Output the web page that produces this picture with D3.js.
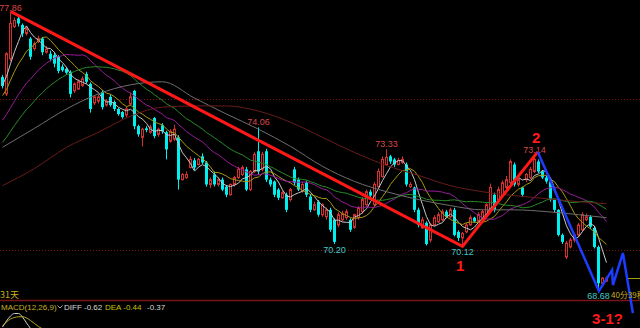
<!DOCTYPE html>
<html>
<head>
<meta charset="utf-8">
<script src="https://cdn.jsdelivr.net/npm/d3@7"></script>
<style>
html, body { margin: 0; padding: 0; background: #000; overflow: hidden; }
svg { display: block; }
</style>
</head>
<body>
<svg id="chart" width="640" height="328"></svg>
<script>
// daily candles
const opens = [75.73,75.17,76.33,77.40,77.67,77.45,77.17,77.00,76.67,76.90,77.00,76.55,76.50,76.45,76.40,76.07,76.00,75.90,75.27,75.33,
  75.45,75.83,75.50,74.87,74.93,75.23,74.80,75.07,74.90,74.67,74.57,74.47,74.83,75.27,74.10,73.73,74.03,73.90,74.37,73.83,
  74.13,73.90,73.60,73.67,73.73,72.33,72.40,72.73,72.97,72.83,73.10,72.90,72.17,72.50,72.17,72.33,72.10,71.83,72.17,72.40,
  72.50,72.67,72.00,72.60,73.27,72.67,73.27,72.33,72.27,72.00,71.73,71.83,71.67,72.67,72.33,71.95,72.23,71.77,71.33,71.60,
  71.17,71.10,71.33,71.00,70.83,71.00,71.07,71.00,70.75,71.07,71.27,71.50,71.93,71.50,72.10,72.43,72.83,73.10,73.00,72.83,
  72.90,72.83,72.10,72.07,71.33,70.73,70.90,70.33,70.83,70.93,71.00,71.27,71.10,71.33,70.60,70.40,70.60,70.83,71.07,70.95,
  71.07,71.17,71.33,71.83,71.67,71.83,72.07,72.23,72.83,72.17,72.07,72.33,72.40,72.60,72.93,72.60,72.40,72.27,71.67,71.33,
  70.50,69.77,70.10,70.33,70.50,70.67,71.00,71.10,70.73,70.10,68.90,68.97];
const highs = [75.80,76.55,77.86,77.70,77.75,77.50,77.40,77.05,76.90,77.10,77.05,76.75,76.60,76.55,76.45,76.15,76.05,75.95,75.55,75.65,
  75.75,75.90,75.55,75.10,75.15,75.30,75.00,75.15,74.95,74.70,74.60,74.75,75.20,75.30,74.15,74.05,74.10,74.15,74.40,74.05,
  74.20,73.95,74.00,74.15,73.80,72.55,72.60,73.10,73.05,73.05,73.20,72.95,72.40,72.60,72.40,72.40,72.15,72.20,72.45,72.75,
  72.80,72.75,72.65,73.25,74.06,73.25,73.35,72.40,72.30,72.05,71.95,71.90,72.05,72.75,72.40,72.25,72.30,71.85,71.60,71.65,
  71.55,71.40,71.40,71.05,71.25,71.30,71.35,71.05,71.20,71.45,71.75,72.00,72.00,72.25,72.70,73.10,73.33,73.15,73.05,73.05,
  73.10,72.90,72.25,72.10,71.40,71.10,70.95,70.90,71.15,71.25,71.35,71.33,71.40,71.40,70.65,70.60,70.90,71.15,71.10,71.25,
  71.35,71.55,72.20,71.90,72.10,72.30,72.45,73.00,72.90,72.40,72.10,72.55,72.75,73.14,73.00,72.65,72.45,72.30,71.70,71.35,
  70.55,70.30,70.40,70.55,70.90,71.25,71.20,71.15,70.80,70.15,69.10,69.12];
const lows = [75.35,75.10,76.25,77.35,77.40,77.05,77.10,76.30,76.60,76.85,76.45,76.50,76.25,76.05,75.85,75.90,75.80,75.05,75.20,75.30,
  75.40,75.50,74.55,74.80,74.85,74.65,74.75,74.75,74.60,74.45,74.35,74.40,74.78,74.00,73.75,73.43,73.90,73.85,73.70,73.75,
  73.85,73.00,73.55,73.60,72.00,72.30,72.35,72.70,72.65,72.80,72.85,72.10,72.05,72.10,72.10,71.95,71.75,71.80,72.10,72.35,
  72.45,71.95,71.95,72.55,72.50,72.60,72.25,72.10,71.75,71.65,71.70,71.25,71.60,72.15,71.95,71.90,71.75,71.25,71.30,71.10,
  71.10,71.00,70.60,70.20,70.75,70.95,71.00,70.60,70.70,71.00,71.20,71.45,71.70,71.45,72.05,72.40,72.80,72.85,72.75,72.80,
  72.85,72.10,72.05,71.25,70.75,70.70,70.15,70.25,70.80,70.90,70.95,71.05,71.05,70.45,70.30,70.12,70.55,70.80,70.90,70.90,
  71.00,71.10,71.30,71.25,71.60,71.75,72.00,72.15,72.10,72.10,71.75,72.25,72.35,72.55,72.55,72.35,72.20,71.60,71.25,70.45,
  70.20,69.70,70.05,70.25,70.45,70.60,70.95,70.70,70.05,68.68,68.85,68.95];
const closes = [75.43,76.50,77.50,77.60,77.50,77.17,77.33,76.40,76.83,77.00,76.55,76.65,76.33,76.17,75.93,75.95,75.87,75.17,75.50,75.57,
  75.67,75.57,74.67,75.07,75.07,74.73,74.93,74.80,74.67,74.50,74.40,74.67,75.07,74.10,73.83,74.00,73.97,74.07,73.77,74.00,
  73.93,73.33,73.93,74.00,72.33,72.50,72.50,73.00,72.73,73.00,72.90,72.17,72.33,72.17,72.33,72.00,71.83,72.17,72.40,72.67,
  72.73,72.00,72.60,73.17,72.60,73.17,72.33,72.17,71.83,71.73,71.90,71.33,72.00,72.23,72.00,72.17,71.83,71.33,71.50,71.17,
  71.50,71.33,70.67,70.27,71.17,71.20,71.27,70.67,71.17,71.40,71.67,71.93,71.80,72.17,72.60,73.00,73.07,72.93,72.83,72.97,
  73.00,72.17,72.17,71.33,70.83,71.00,70.20,70.83,71.07,71.17,71.27,71.10,71.33,70.50,70.40,70.55,70.83,71.07,70.95,71.17,
  71.27,71.50,72.07,71.33,72.00,72.23,72.33,72.93,72.17,72.33,71.83,72.50,72.67,73.00,72.60,72.40,72.27,71.67,71.33,70.50,
  70.27,70.23,70.33,70.50,70.83,71.17,71.10,70.77,70.10,68.90,69.07,69.07];
// closes before the first visible candle, only used to start the averages
const histCloses = [71.6,71.5,71.8,72.0,71.9,72.2,72.4,72.3,72.6,72.8,72.7,73.0,73.2,73.1,73.4,73.6,73.8,73.7,74.0,74.3,
  74.5,74.4,74.7,75.0,75.2,75.1,75.4,75.6,75.8];

// the two long averages, every 8 candles
const longIdx = [0,8,16,24,32,40,48,56,64,72,80,88,96,104,112,120,128,136,144,151];
const ma60 = [73.40,74.03,74.67,75.17,75.47,75.57,75.03,74.50,74.00,73.43,72.77,72.27,71.93,71.67,71.47,71.33,71.33,71.27,71.17,71.07];
const ma120 = [72.13,72.70,73.40,73.90,74.43,74.73,74.77,74.77,74.60,74.23,73.73,73.23,72.80,72.47,72.13,71.93,71.80,71.70,71.60,71.53];

const highMarks = [2, 64, 96, 133];
const lowMarks = [83, 115, 149];
const priceGrid = [70, 75];

// hand drawn lines
const trendIdx = [2, 115, 133.8];
const trendPrice = [77.9, 70.12, 73.25];
const waveIdx = [133.8, 149.1, 152.4, 152.6, 155.1, 157.6];
const wavePrice = [73.25, 68.64, 69.34, 68.84, 69.90, 67.91];
const waveNames = ['1', '2', '3-1?'];
const waveNameIdx = [114.4, 133.4, 147.4];
const waveNamePrice = [69.3, 73.55, 67.55];

// MACD panel, only its top edge is visible
const macdDiff = [0.52,0.76,0.96,1.06,1.06,0.92,0.68,0.46,0.20,-0.05];
const macdDea = [0.56,0.72,0.84,0.90,0.93,0.93,0.88,0.78,0.66,0.54,0.44,0.32];
const macdTexts = ['MACD(12,26,9)', 'DIFF -0.62', 'DEA -0.44', '-0.37'];

const W = 640, H = 328;
const RED = '#d43030', CYAN = '#00f0f0';
const FONT = '"Liberation Sans", Arial, sans-serif';

const svg = d3.select('#chart');
svg.append('rect').attr('width', W).attr('height', H).attr('fill', '#000');

const xScale = d3.scaleLinear().domain([0, 151]).range([2.5, 606.5]);
const yScale = d3.scaleLinear().domain([70, 75]).range([250, 99]);
const macdY = d3.scaleLinear().domain([0, 1]).range([340, 315]);

// grid lines and panel separator
svg.append('g').selectAll('line').data(priceGrid).join('line')
    .attr('x1', 0).attr('x2', W)
    .attr('y1', d => Math.round(yScale(d)) + 0.5)
    .attr('y2', d => Math.round(yScale(d)) + 0.5)
    .attr('stroke', '#7a1212').attr('stroke-dasharray', '1,2');
svg.append('line').attr('x1', 0).attr('x2', W).attr('y1', 300.5).attr('y2', 300.5)
    .attr('stroke', '#7a1414').attr('stroke-width', 1.6);

const candles = closes.map((c, i) => ({i: i, o: opens[i], h: highs[i], l: lows[i], c: c}));
const up = d => d.c >= d.o;

const cg = svg.append('g');
cg.selectAll('line').data(candles).join('line')
    .attr('x1', d => xScale(d.i)).attr('x2', d => xScale(d.i))
    .attr('y1', d => yScale(d.h)).attr('y2', d => yScale(d.l))
    .attr('stroke', d => up(d) ? RED : CYAN);
cg.selectAll('rect').data(candles).join('rect')
    .attr('x', d => up(d) ? xScale(d.i) - 1 : xScale(d.i) - 1.5)
    .attr('width', d => up(d) ? 2 : 3)
    .attr('y', d => yScale(Math.max(d.o, d.c)))
    .attr('height', d => Math.max(1, Math.abs(yScale(d.o) - yScale(d.c))))
    .attr('fill', d => up(d) ? '#000' : CYAN)
    .attr('stroke', d => up(d) ? RED : 'none');

// moving averages
const allCloses = histCloses.concat(closes);
function movingAvg(n) {
    const off = histCloses.length;
    return closes.map((c, i) => d3.mean(allCloses.slice(i + off - n + 1, i + off + 1)));
}
const maLine = d3.line().x((d, i) => xScale(i)).y(d => yScale(d));
const mas = [
    {v: movingAvg(5), color: '#c8c8c8'},
    {v: movingAvg(10), color: '#a89a10'},
    {v: movingAvg(20), color: '#9a1c9a'},
    {v: movingAvg(30), color: '#2a8a2a'}
];
const mg = svg.append('g').attr('fill', 'none').attr('stroke-width', 1);
mg.selectAll('path.short').data(mas).join('path')
    .attr('class', 'short')
    .attr('d', d => maLine(d.v))
    .attr('stroke', d => d.color);
const longLine = d3.line().curve(d3.curveMonotoneX)
    .x((d, i) => xScale(longIdx[i])).y(d => yScale(d));
mg.append('path').attr('d', longLine(ma60)).attr('stroke', '#6e6e6e');
mg.append('path').attr('d', longLine(ma120)).attr('stroke', '#6a1c1c');

// high / low price labels
const lg = svg.append('g').attr('font-family', FONT).attr('font-size', 9).attr('text-anchor', 'middle');
lg.selectAll('text.hi').data(highMarks).join('text')
    .attr('class', 'hi')
    .attr('x', i => xScale(i)).attr('y', i => yScale(highs[i]) - 2)
    .attr('fill', '#d84848')
    .text(i => highs[i].toFixed(2));
lg.selectAll('text.lo').data(lowMarks).join('text')
    .attr('class', 'lo')
    .attr('x', i => xScale(i)).attr('y', i => yScale(lows[i]) + 9)
    .attr('fill', '#40c8c8')
    .text(i => lows[i].toFixed(2));

// trend line and wave sketch
const freeLine = d3.line();
svg.append('path')
    .attr('d', freeLine(trendIdx.map((d, k) => [xScale(d), yScale(trendPrice[k])])))
    .attr('fill', 'none').attr('stroke', '#ff1818').attr('stroke-width', 3);
svg.append('path')
    .attr('d', freeLine(waveIdx.map((d, k) => [xScale(d), yScale(wavePrice[k])])))
    .attr('fill', 'none').attr('stroke', '#1c3cff').attr('stroke-width', 2.5);

svg.append('g').attr('font-family', FONT).attr('font-size', 15).attr('font-weight', 'bold')
    .attr('fill', '#ff1a1a')
    .selectAll('text').data(waveNames).join('text')
    .attr('x', (d, k) => xScale(waveNameIdx[k])).attr('y', (d, k) => yScale(waveNamePrice[k]))
    .attr('text-anchor', (d, k) => k < 2 ? 'middle' : 'start')
    .text(d => d);

// last price marker
const lastY = Math.round(yScale(closes[closes.length - 1])) + 0.5;
svg.append('line').attr('x1', 628).attr('x2', W).attr('y1', lastY).attr('y2', lastY)
    .attr('stroke', '#a89a10');

// footer texts
svg.append('text').attr('x', 0).attr('y', 298).attr('font-family', '"Noto Sans CJK SC", ' + FONT)
    .attr('font-size', 9).attr('fill', '#c8b020').text('31天');
svg.append('text').attr('x', 611).attr('y', 298).attr('font-family', '"Noto Sans CJK SC", ' + FONT)
    .attr('font-size', 8).attr('fill', '#c8b020').text('40分39秒');

// MACD panel
svg.append('clipPath').attr('id', 'macdClip')
    .append('rect').attr('x', 0).attr('y', 302).attr('width', W).attr('height', H - 302);
const pg = svg.append('g').attr('clip-path', 'url(#macdClip)').attr('fill', 'none');
const macdLine = d3.line().curve(d3.curveMonotoneX).x((d, i) => xScale(i)).y(d => macdY(d));
pg.append('path').attr('d', macdLine(macdDiff)).attr('stroke', '#d0d0d0');
pg.append('path').attr('d', macdLine(macdDea)).attr('stroke', '#b8a818');

const macdX = [1, 64, 105, 147];
const macdColor = ['#c8b020', '#d8d8d8', '#c8c000', '#d8d8d8'];
const tg = svg.append('g').attr('font-family', FONT).attr('font-size', 8);
tg.selectAll('text').data(macdTexts).join('text')
    .attr('x', (d, k) => macdX[k]).attr('y', 309.5)
    .attr('fill', (d, k) => macdColor[k])
    .text(d => d);
tg.append('path').attr('d', 'M57.5,305.5 L60,308 L62.5,305.5').attr('fill', 'none').attr('stroke', '#aaa');
</script>
</body>
</html>
